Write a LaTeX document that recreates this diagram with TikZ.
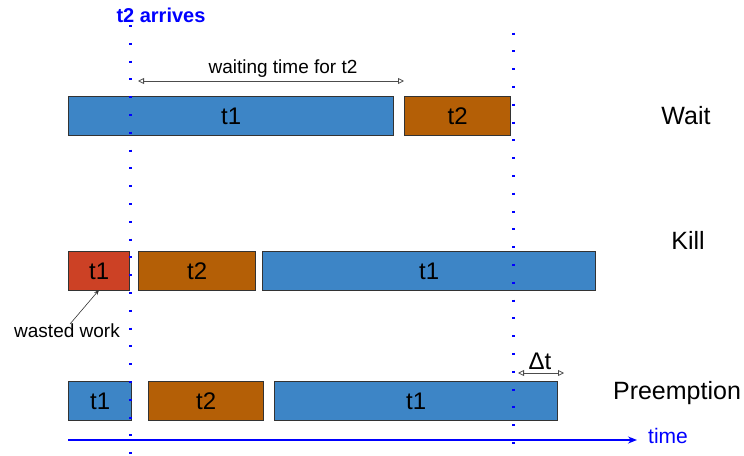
\documentclass[tikz,border=0pt]{standalone}
\usepackage{fontspec}
\setmainfont{Liberation Sans}
\usetikzlibrary{arrows.meta}
\definecolor{tblue}{HTML}{3D85C6}
\definecolor{torange}{HTML}{B45F06}
\definecolor{tred}{HTML}{CC4125}
\definecolor{lineblue}{HTML}{0000FF}
\definecolor{edge}{HTML}{333333}
\begin{document}
\begin{tikzpicture}[x=1pt,y=-1pt,
  taskbox/.style={draw=edge, line width=1.2pt, inner sep=0pt, anchor=north west,
    font=\fontsize{24}{26}\selectfont, minimum height=39pt},
  rowlabel/.style={font=\fontsize{25}{27}\selectfont, inner sep=0pt},
  vline/.style={draw=lineblue, line width=3pt, dash pattern=on 2pt off 15.8pt},
  dimarrow/.style={draw=black!70, line width=0.8pt,
    {Triangle[open,length=6pt,width=6pt]}-{Triangle[open,length=6pt,width=6pt]}},
]
\useasboundingbox (0,0) rectangle (744,455);

\node[font=\bfseries\fontsize{20}{22}\selectfont, text=lineblue, inner sep=0pt] (arr) at (161,15) {t2 arrives};

% Wait row
\node[taskbox, fill=tblue, minimum width=325pt] (w1) at (68,96) {t1};
\node[taskbox, fill=torange, minimum width=106pt] (w2) at (404,96) {t2};
\coordinate (wa) at (138,81);
\coordinate (wb) at (404,81);
\draw[dimarrow] (wa) -- (wb);
\node[font=\fontsize{19}{21}\selectfont, inner sep=0pt] (wl) at (283,69) {waiting time for t2};
\node[rowlabel] (lwait) at (686,116) {Wait};

% Kill row
\node[taskbox, fill=tred, minimum width=61pt] (k1) at (68,251) {t1};
\node[taskbox, fill=torange, minimum width=117pt] (k2) at (138,251) {t2};
\node[taskbox, fill=tblue, minimum width=333pt] (k3) at (262,251) {t1};
\node[rowlabel] (lkill) at (688,240) {Kill};
\node[font=\fontsize{19}{21}\selectfont, inner sep=0pt] (ww) at (67,331) {wasted work};
\coordinate (wwtip) at (99,290);
\coordinate (wwtail) at (70,324);
\draw[-{Stealth[length=5pt,width=4pt]}, line width=0.6pt, draw=black!80] (wwtail) -- (wwtip);

% Preemption row
\node[taskbox, fill=tblue, minimum width=63pt] (p1) at (68,381) {t1};
\node[taskbox, fill=torange, minimum width=115pt] (p2) at (148,381) {t2};
\node[taskbox, fill=tblue, minimum width=283pt] (p3) at (274,381) {t1};
\node[rowlabel] (lpre) at (677,393) {Preemption};
\coordinate (da) at (518,373);
\coordinate (db) at (564,373);
\draw[dimarrow] (da) -- (db);
\node[font=\fontsize{24}{26}\selectfont, inner sep=0pt] (dt) at (540,361) {Δt};

% time axis
\coordinate (t0) at (68,440);
\coordinate (t1) at (637,440);
\draw[draw=lineblue, line width=1.5pt, -{Stealth[length=9pt,width=7pt]}] (t0) -- (t1);
\node[font=\fontsize{21}{23}\selectfont, text=lineblue, inner sep=0pt] (tl) at (668,436) {time};

% vertical dotted lines (drawn on top)
\coordinate (v1top) at (130,25);
\coordinate (v1bot) at (130,456);
\coordinate (v2top) at (513,32.5);
\coordinate (v2bot) at (513,446);
\draw[vline] (v1top) -- (v1bot);
\draw[vline] (v2top) -- (v2bot);
\end{tikzpicture}
\end{document}
